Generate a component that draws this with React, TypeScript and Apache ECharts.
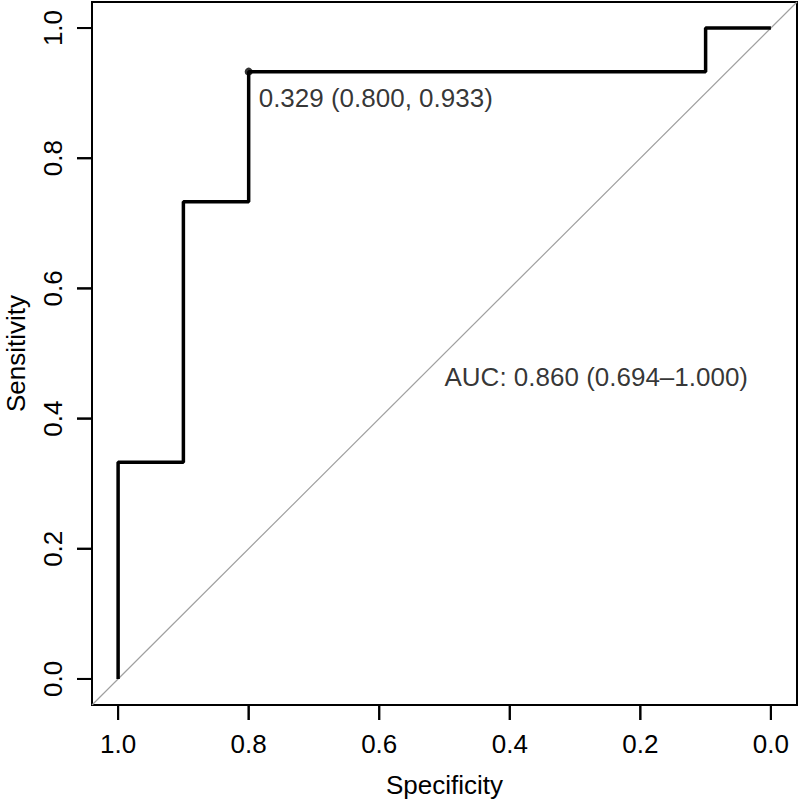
import React, { useEffect, useRef } from "react";
import * as echarts from "echarts";

const tickValues = [0, 0.2, 0.4, 0.6, 0.8, 1.0];
// ROC curve points: [specificity, sensitivity]
const rocSpecificity = [1.0, 1.0, 0.9, 0.9, 0.8, 0.8, 0.1, 0.1, 0.0];
const rocSensitivity = [0.0, 0.333, 0.333, 0.733, 0.733, 0.933, 0.933, 1.0, 1.0];
const diagonalSpecificity = [1.04, -0.04];
const diagonalSensitivity = [-0.04, 1.04];
const bestThreshold = 0.329;
const bestPoint = [0.8, 0.933];
const aucValue = 0.86;
const aucCI = [0.694, 1.0];
const aucLabelPos = [0.5, 0.464];
const axisMin = -0.04;
const axisMax = 1.04;

const FONT = "'Liberation Sans', Arial, Helvetica, sans-serif";
const TICK_LEN = 15;

export default function App() {
  const ref = useRef<HTMLDivElement>(null);
  useEffect(() => {
    if (!ref.current) return;
    const chart = echarts.init(ref.current, null, { renderer: "svg" });
    const rocData = rocSpecificity.map((s, i) => [s, rocSensitivity[i]]);
    const diagData = diagonalSpecificity.map((s, i) => [s, diagonalSensitivity[i]]);
    const xTickData = tickValues.map((v) => [v, axisMin]);
    const yTickData = tickValues.map((v) => [axisMax, v]);
    const axisCommon = {
      type: "value" as const,
      min: axisMin,
      max: axisMax,
      splitLine: { show: false },
      axisLine: { show: false },
      axisTick: { show: false },
      nameLocation: "middle" as const,
      nameTextStyle: { color: "#000", fontSize: 26, fontFamily: FONT },
    };
    const tickSeries = (data: number[][], dir: "x" | "y") => ({
      type: "custom",
      coordinateSystem: "cartesian2d",
      data,
      silent: true,
      clip: false,
      z: 5,
      renderItem: (_params: any, api: any) => {
        const p = api.coord([api.value(0), api.value(1)]);
        const shape =
          dir === "x"
            ? { x1: p[0], y1: p[1], x2: p[0], y2: p[1] + TICK_LEN }
            : { x1: p[0], y1: p[1], x2: p[0] - TICK_LEN, y2: p[1] };
        return {
          type: "line",
          shape,
          style: { stroke: "#000", lineWidth: 2 },
        };
      },
    });
    chart.setOption({
      animation: false,
      backgroundColor: "#fff",
      grid: {
        left: 92,
        right: 3,
        top: 2,
        bottom: 95,
        show: true,
        borderColor: "#000",
        borderWidth: 2,
        backgroundColor: "transparent",
        outerBoundsMode: "none",
      },
      xAxis: {
        ...axisCommon,
        inverse: true,
        name: "Specificity",
        nameGap: 67,
        axisLabel: {
          customValues: tickValues,
          formatter: (v: number) => v.toFixed(1),
          color: "#000",
          fontSize: 26,
          fontFamily: FONT,
          margin: 26,
        },
      },
      yAxis: {
        ...axisCommon,
        name: "Sensitivity",
        nameGap: 63,
        axisLabel: {
          customValues: tickValues,
          formatter: (v: number) => v.toFixed(1),
          color: "#000",
          fontSize: 26,
          fontFamily: FONT,
          margin: 26,
          rotate: 90,
        },
      },
      series: [
        {
          type: "line",
          data: diagData,
          symbol: "none",
          lineStyle: { color: "#a0a0a0", width: 1.2 },
          silent: true,
          z: 1,
        },
        {
          type: "line",
          data: rocData,
          symbol: "none",
          lineStyle: { color: "#000", width: 3.5 },
          silent: true,
          z: 2,
        },
        {
          type: "scatter",
          data: [bestPoint],
          symbol: "circle",
          symbolSize: 8,
          itemStyle: { color: "#000" },
          label: {
            show: true,
            position: "right",
            distance: 0,
            offset: [6, 26],
            formatter: `${bestThreshold.toFixed(3)} (${bestPoint[0].toFixed(3)}, ${bestPoint[1].toFixed(3)})`,
            color: "#000",
            fontSize: 26,
            fontFamily: FONT,
          },
          z: 3,
        },
        {
          type: "scatter",
          data: [aucLabelPos],
          symbolSize: 0,
          label: {
            show: true,
            position: "right",
            distance: 0,
            formatter: `AUC: ${aucValue.toFixed(3)} (${aucCI[0].toFixed(3)}\u2013${aucCI[1].toFixed(3)})`,
            color: "#000",
            fontSize: 26,
            fontFamily: FONT,
          },
          z: 3,
        },
        tickSeries(xTickData, "x"),
        tickSeries(yTickData, "y"),
      ],
    });

    // Same tick marks through the graphic component (positioned via the chart's scales)
    const finder = { gridIndex: 0 };
    const tickGraphics: any[] = [];
    tickValues.forEach((v) => {
      const px = chart.convertToPixel(finder, [v, axisMin]) as any;
      const py = chart.convertToPixel(finder, [axisMax, v]) as any;
      if (Array.isArray(px) && isFinite(px[0]) && isFinite(px[1])) {
        tickGraphics.push({
          type: "line",
          silent: true,
          shape: { x1: px[0], y1: px[1], x2: px[0], y2: px[1] + TICK_LEN },
          style: { stroke: "#000", lineWidth: 2 },
        });
      }
      if (Array.isArray(py) && isFinite(py[0]) && isFinite(py[1])) {
        tickGraphics.push({
          type: "line",
          silent: true,
          shape: { x1: py[0], y1: py[1], x2: py[0] - TICK_LEN, y2: py[1] },
          style: { stroke: "#000", lineWidth: 2 },
        });
      }
    });
    if (tickGraphics.length) chart.setOption({ graphic: tickGraphics });

    return () => chart.dispose();
  }, []);
  return (
    <div
      ref={ref}
      style={{ position: "fixed", left: 0, top: 0, width: 800, height: 800 }}
    />
  );
}
